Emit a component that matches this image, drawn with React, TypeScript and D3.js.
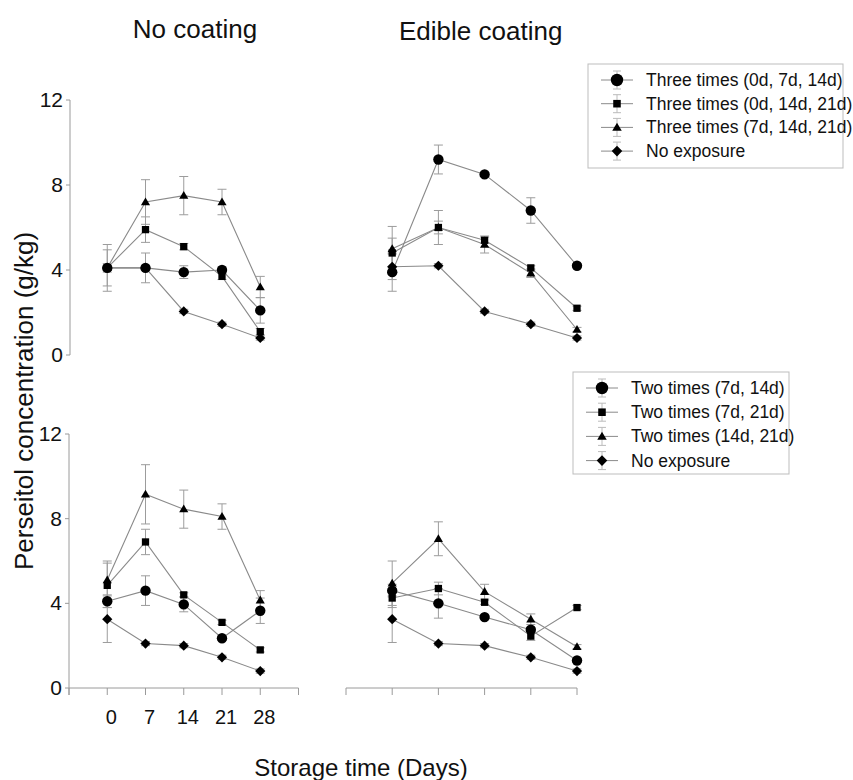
import React from "react";
import * as d3 from "d3";

const days = [0, 7, 14, 21, 28];
const yTicks = [0, 4, 8, 12];
const xTickLabels = ["0", "7", "14", "21", "28"];

const panelTitles = ["No coating", "Edible coating"];
const yAxisLabel = "Perseitol concentration (g/kg)";
const xAxisLabel = "Storage time (Days)";

const threeLabels = [
  "Three times (0d, 7d, 14d)",
  "Three times (0d, 14d, 21d)",
  "Three times (7d, 14d, 21d)",
  "No exposure",
];
const twoLabels = [
  "Two times (7d, 14d)",
  "Two times (7d, 21d)",
  "Two times (14d, 21d)",
  "No exposure",
];
const shapes = ["circle", "square", "triangle", "diamond"];

// No coating, three exposures
const nc3Circle = [4.1, 4.1, 3.9, 4.0, 2.1];
const nc3CircleErr = [0.85, 0.7, 0.3, 0.15, 0.6];
const nc3Square = [4.1, 5.9, 5.1, 3.7, 1.1];
const nc3SquareErr = [1.1, 0.6, 0.15, 0.15, 0.15];
const nc3Triangle = [4.1, 7.2, 7.5, 7.2, 3.2];
const nc3TriangleErr = [0.2, 1.05, 0.9, 0.6, 0.5];
const nc3None = [4.1, 4.1, 2.05, 1.45, 0.8];
const nc3NoneErr = [0.1, 0.1, 0.1, 0.1, 0.1];

// Edible coating, three exposures
const ec3Circle = [3.9, 9.2, 8.5, 6.8, 4.2];
const ec3CircleErr = [0.9, 0.68, 0.1, 0.6, 0.1];
const ec3Square = [4.8, 6.0, 5.4, 4.1, 2.2];
const ec3SquareErr = [0.7, 0.8, 0.15, 0.1, 0.1];
const ec3Triangle = [5.0, 6.0, 5.2, 3.85, 1.2];
const ec3TriangleErr = [1.05, 0.3, 0.4, 0.2, 0.1];
const ec3None = [4.15, 4.2, 2.05, 1.45, 0.8];
const ec3NoneErr = [0.6, 0.1, 0.1, 0.1, 0.1];

// No coating, two exposures
const nc2Circle = [4.1, 4.6, 3.95, 2.35, 3.65];
const nc2CircleErr = [0.3, 0.7, 0.35, 0.1, 0.6];
const nc2Square = [4.85, 6.9, 4.4, 3.1, 1.8];
const nc2SquareErr = [1.05, 0.6, 0.1, 0.1, 0.1];
const nc2Triangle = [5.1, 9.15, 8.45, 8.1, 4.15];
const nc2TriangleErr = [0.9, 1.4, 0.9, 0.6, 0.45];
const nc2None = [3.25, 2.1, 2.0, 1.45, 0.8];
const nc2NoneErr = [1.1, 0.1, 0.1, 0.1, 0.1];

// Edible coating, two exposures
const ec2Circle = [4.6, 4.0, 3.35, 2.75, 1.3];
const ec2CircleErr = [0.3, 0.7, 0.1, 0.1, 0.1];
const ec2Square = [4.25, 4.7, 4.05, 2.45, 3.8];
const ec2SquareErr = [0.45, 0.3, 0.1, 0.2, 0.1];
const ec2Triangle = [4.95, 7.05, 4.55, 3.25, 1.95];
const ec2TriangleErr = [1.05, 0.8, 0.35, 0.25, 0.1];
const ec2None = [3.25, 2.1, 2.0, 1.45, 0.8];
const ec2NoneErr = [1.1, 0.1, 0.1, 0.1, 0.1];

const FONT = "'Liberation Sans', Arial, Helvetica, sans-serif";
const LINE = "#8a8a8a";
const ERR = "#9c9c9c";
const AXIS = "#9a9a9a";
const INK = "#111";

function markerPath(shape: string, s: number) {
  if (shape === "circle") {
    return d3.symbol(d3.symbolCircle, Math.PI * s * s)() as string;
  }
  if (shape === "square") {
    const h = s * 0.7;
    return `M${-h},${-h}H${h}V${h}H${-h}Z`;
  }
  if (shape === "triangle") {
    const w = s * 0.88;
    return `M0,${-s * 0.88}L${w},${s * 0.62}L${-w},${s * 0.62}Z`;
  }
  const d = s * 0.98;
  return `M0,${-d}L${d},0L0,${d}L${-d},0Z`;
}

type Series = { values: number[]; err: number[]; shape: string };

function Panel({
  series,
  x,
  y,
}: {
  series: Series[];
  x: d3.ScaleLinear<number, number>;
  y: d3.ScaleLinear<number, number>;
}) {
  const line = d3
    .line<number>()
    .x((_, i) => x(days[i]))
    .y((v) => y(v));
  return (
    <g>
      {series.map((s, k) => (
        <path key={"l" + k} d={line(s.values) as string} fill="none" stroke={LINE} strokeWidth={1.1} />
      ))}
      {series.map((s, k) =>
        s.values.map((v, i) => {
          const cx = x(days[i]);
          const t = y(v + s.err[i]);
          const b = y(v - s.err[i]);
          return (
            <g key={"e" + k + "-" + i} stroke={ERR} strokeWidth={1}>
              <line x1={cx} x2={cx} y1={t} y2={b} />
              <line x1={cx - 4.5} x2={cx + 4.5} y1={t} y2={t} />
              <line x1={cx - 4.5} x2={cx + 4.5} y1={b} y2={b} />
            </g>
          );
        })
      )}
      {series.map((s, k) =>
        s.values.map((v, i) => (
          <path
            key={"m" + k + "-" + i}
            d={markerPath(s.shape, 5.2)}
            transform={`translate(${x(days[i])},${y(v)})`}
            fill="#000"
          />
        ))
      )}
    </g>
  );
}

function Legend({ x0, y0, w, h, labels, step }: { x0: number; y0: number; w: number; h: number; labels: string[]; step: number }) {
  return (
    <g>
      <rect x={x0} y={y0} width={w} height={h} fill="#fff" stroke="#bdbdbd" strokeWidth={1} />
      {labels.map((lab, i) => {
        const cy = y0 + 16 + i * step;
        const mx = x0 + 29;
        return (
          <g key={i}>
            <line x1={mx - 16} x2={mx + 16} y1={cy} y2={cy} stroke={LINE} strokeWidth={1} />
            <line x1={mx} x2={mx} y1={cy - 9} y2={cy + 9} stroke="#bbb" strokeWidth={1} />
            <line x1={mx - 4} x2={mx + 4} y1={cy - 9} y2={cy - 9} stroke="#bbb" strokeWidth={1} />
            <line x1={mx - 4} x2={mx + 4} y1={cy + 9} y2={cy + 9} stroke="#bbb" strokeWidth={1} />
            <path d={markerPath(shapes[i], i === 0 ? 6.2 : 5.4)} transform={`translate(${mx},${cy})`} fill="#000" />
            <text x={x0 + 58} y={cy + 6} fontSize={17.5} fill={INK} fontFamily={FONT}>
              {lab}
            </text>
          </g>
        );
      })}
    </g>
  );
}

export default function App() {
  const W = 853;
  const H = 780;
  const xLeft = d3.scaleLinear().domain([-7, 35]).range([69, 298.5]);
  const xRight = d3.scaleLinear().domain([-7, 28]).range([346, 577]);
  const yTop = d3.scaleLinear().domain([0, 12]).range([355, 100]);
  const yBot = d3.scaleLinear().domain([0, 12]).range([688, 434]);

  const mk = (vals: number[][], errs: number[][]): Series[] =>
    vals.map((v, i) => ({ values: v, err: errs[i], shape: shapes[i] }));

  const topLeft = mk([nc3Circle, nc3Square, nc3Triangle, nc3None], [nc3CircleErr, nc3SquareErr, nc3TriangleErr, nc3NoneErr]);
  const topRight = mk([ec3Circle, ec3Square, ec3Triangle, ec3None], [ec3CircleErr, ec3SquareErr, ec3TriangleErr, ec3NoneErr]);
  const botLeft = mk([nc2Circle, nc2Square, nc2Triangle, nc2None], [nc2CircleErr, nc2SquareErr, nc2TriangleErr, nc2NoneErr]);
  const botRight = mk([ec2Circle, ec2Square, ec2Triangle, ec2None], [ec2CircleErr, ec2SquareErr, ec2TriangleErr, ec2NoneErr]);

  const leftTicks = d3.range(-7, 36, 7);
  const rightTicks = d3.range(-7, 29, 7);

  const yAxis = (y: d3.ScaleLinear<number, number>, ax: number, extra: number) => (
    <g>
      <line x1={ax} x2={ax} y1={y(12)} y2={y(0) + extra} stroke={AXIS} strokeWidth={1} />
      {yTicks.map((t) => (
        <g key={t}>
          <line x1={ax - 4} x2={ax} y1={y(t)} y2={y(t)} stroke={AXIS} strokeWidth={1} />
          <text x={ax - 7} y={y(t) + 7} textAnchor="end" fontSize={21} fill={INK} fontFamily={FONT}>
            {t}
          </text>
        </g>
      ))}
    </g>
  );

  return (
    <svg width={W} height={H} style={{ position: "absolute", left: 0, top: 0, background: "#fff" }}>
      <rect x={0} y={0} width={W} height={H} fill="#fff" />
      <text x={195} y={37.5} textAnchor="middle" fontSize={26} fill={INK} fontFamily={FONT}>
        {panelTitles[0]}
      </text>
      <text x={399} y={40} textAnchor="start" fontSize={26} fill={INK} fontFamily={FONT}>
        {panelTitles[1]}
      </text>

      <text
        transform={`translate(33,401) rotate(-90)`}
        textAnchor="middle"
        fontSize={26}
        fill={INK}
        fontFamily={FONT}
      >
        {yAxisLabel}
      </text>
      <text x={361} y={776} textAnchor="middle" fontSize={24} fill={INK} fontFamily={FONT}>
        {xAxisLabel}
      </text>

      {yAxis(yTop, 70, 0)}
      {yAxis(yBot, 69, 7)}

      {/* bottom x axes */}
      <line x1={xLeft(-7)} x2={xLeft(35)} y1={688} y2={688} stroke={AXIS} strokeWidth={1} />
      {leftTicks.map((t) => (
        <line key={"lt" + t} x1={xLeft(t)} x2={xLeft(t)} y1={688} y2={695} stroke={AXIS} strokeWidth={1} />
      ))}
      {days.map((d, i) => (
        <text key={"lx" + d} x={xLeft(d) + 4} y={724} textAnchor="middle" fontSize={20} fill={INK} fontFamily={FONT}>
          {xTickLabels[i]}
        </text>
      ))}
      <line x1={xRight(-7)} x2={xRight(28)} y1={688} y2={688} stroke={AXIS} strokeWidth={1} />
      {rightTicks.map((t) => (
        <line key={"rt" + t} x1={xRight(t)} x2={xRight(t)} y1={688} y2={695} stroke={AXIS} strokeWidth={1} />
      ))}

      <Panel series={topLeft} x={xLeft} y={yTop} />
      <Panel series={topRight} x={xRight} y={yTop} />
      <Panel series={botLeft} x={xLeft} y={yBot} />
      <Panel series={botRight} x={xRight} y={yBot} />

      <Legend x0={588} y0={64} w={255} h={104} labels={threeLabels} step={23.7} />
      <Legend x0={573} y0={372} w={216} h={102} labels={twoLabels} step={24.2} />
    </svg>
  );
}
